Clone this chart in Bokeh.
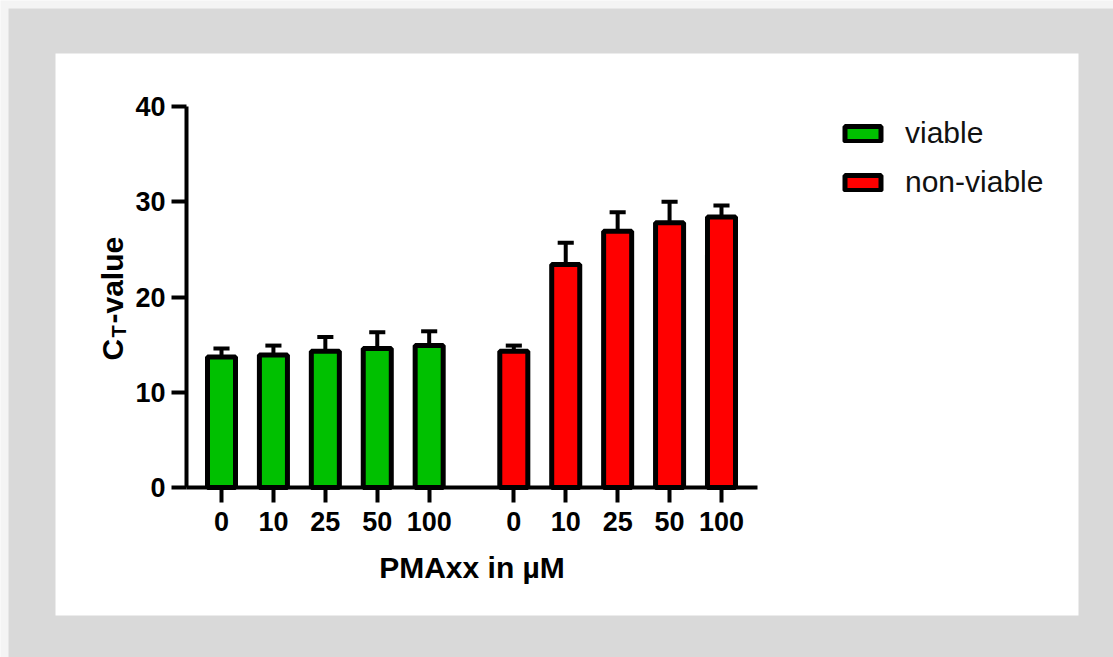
import math
from bokeh.plotting import figure
from bokeh.models import (ColumnDataSource, Range1d, FixedTicker, Legend, LegendItem,
                          Label, BoxAnnotation, LinearAxis)
from bokeh.embed import file_html
from bokeh.resources import INLINE

# ---- data ----
concentrations = ["0", "10", "25", "50", "100"]
viable_mean = [13.7, 13.9, 14.3, 14.6, 14.9]
viable_sd = [0.9, 1.0, 1.5, 1.7, 1.5]
nonviable_mean = [14.3, 23.4, 26.9, 27.8, 28.4]
nonviable_sd = [0.6, 2.3, 2.0, 2.2, 1.2]
y_ticks = [0, 10, 20, 30, 40]

GAP = 1.63
x_viable = [float(i) for i in range(len(concentrations))]
x_nonviable = [round(i + 4 + GAP, 2) for i in range(len(concentrations))]

FONT = "Liberation Sans"
W, H = 1113, 657

# pixel geometry of the plotting area (layout only)
X0_PX, XU_PX = 221.0, 51.92       # pixel of x=0, pixels per x unit
Y0_PX, YU_PX = 487.0, 9.525       # pixel of y=0, pixels per y unit
AX_LEFT_PX, AX_RIGHT_PX = 186.0, 757.0


def dx(px):
    return (px - X0_PX) / XU_PX


p = figure(width=W, height=H, output_backend="svg", toolbar_location=None,
           x_range=Range1d(dx(0), dx(W)),
           y_range=Range1d(-(H - Y0_PX) / YU_PX, Y0_PX / YU_PX),
           x_axis_location=None, y_axis_location=None,
           min_border=0, min_border_left=0, min_border_right=0,
           min_border_top=0, min_border_bottom=0)
p.border_fill_color = "#f4f4f4"
p.background_fill_color = "#f4f4f4"
p.outline_line_color = None
p.grid.visible = False
for g in p.grid:
    g.grid_line_color = None


def sy(py):
    return H - py


# gray frame and white panel (screen units, y measured from bottom)
p.add_layout(BoxAnnotation(left=8, right=W, top=sy(8), bottom=0,
                           left_units="screen", right_units="screen",
                           top_units="screen", bottom_units="screen",
                           fill_color="#d9d9d9", fill_alpha=1, line_alpha=0, level="underlay"))
p.add_layout(BoxAnnotation(left=55, right=1078, top=sy(53), bottom=sy(615),
                           left_units="screen", right_units="screen",
                           top_units="screen", bottom_units="screen",
                           fill_color="white", fill_alpha=1, line_alpha=0, level="underlay"))

src_v = ColumnDataSource(dict(x=x_viable, top=viable_mean,
                              err=[m + s for m, s in zip(viable_mean, viable_sd)],
                              cl=[x - 0.155 for x in x_viable], cr=[x + 0.155 for x in x_viable]))
src_n = ColumnDataSource(dict(x=x_nonviable, top=nonviable_mean,
                              err=[m + s for m, s in zip(nonviable_mean, nonviable_sd)],
                              cl=[x - 0.155 for x in x_nonviable], cr=[x + 0.155 for x in x_nonviable]))

for src in (src_v, src_n):
    p.segment(x0="x", y0="top", x1="x", y1="err", source=src, line_color="black", line_width=4)
    p.segment(x0="cl", y0="err", x1="cr", y1="err", source=src, line_color="black", line_width=4)

rv = p.vbar(x="x", top="top", bottom=0, width=0.54, source=src_v,
            fill_color="#00C000", line_color="black", line_width=5)
rn = p.vbar(x="x", top="top", bottom=0, width=0.54, source=src_n,
            fill_color="#FF0000", line_color="black", line_width=5)

# axes at fixed positions
xt = x_viable + x_nonviable
xaxis = LinearAxis(fixed_location=0, bounds=(dx(AX_LEFT_PX), dx(AX_RIGHT_PX)),
                   ticker=FixedTicker(ticks=xt))
xaxis.major_label_overrides = {t: lab for t, lab in zip(xt, concentrations + concentrations)}
xaxis.major_label_standoff = 9
xaxis.axis_label = "PMAxx in µM"
xaxis.axis_label_text_font = FONT
xaxis.axis_label_text_font_style = "bold"
xaxis.axis_label_text_font_size = "30px"
xaxis.axis_label_text_color = "black"
xaxis.axis_label_standoff = 17

yaxis = LinearAxis(fixed_location=dx(AX_LEFT_PX), bounds=(0, 40),
                   ticker=FixedTicker(ticks=y_ticks))
yaxis.major_label_standoff = 6

for ax in (xaxis, yaxis):
    ax.axis_line_width = 4
    ax.axis_line_color = "black"
    ax.major_tick_line_width = 4
    ax.major_tick_line_color = "black"
    ax.major_tick_out = 15
    ax.major_tick_in = 0
    ax.minor_tick_line_color = None
    ax.major_label_text_font = FONT
    ax.major_label_text_font_style = "bold"
    ax.major_label_text_font_size = "27px"
    ax.major_label_text_color = "black"

p.add_layout(xaxis, "below")
p.add_layout(yaxis, "left")

# y-axis label with subscript T, rotated
ang = math.pi / 2
for txt, bx, by, fs in (("C", 112, 360, "30px"), ("T", 118, 337, "20px"), ("-value", 112, 323, "30px")):
    p.add_layout(Label(x=bx, y=sy(by), x_units="screen", y_units="screen", text=txt,
                       angle=ang, text_font=FONT, text_font_style="bold", text_font_size=fs,
                       text_align="left", text_baseline="alphabetic", text_color="black"))

legend = Legend(items=[LegendItem(label="viable", renderers=[rv]),
                       LegendItem(label="non-viable", renderers=[rn])],
                location=(840, sy(199)))
legend.glyph_width = 45
legend.glyph_height = 19
legend.label_text_font = FONT
legend.label_text_font_size = "30px"
legend.label_text_color = "#111111"
legend.label_standoff = 20
legend.spacing = 15
legend.padding = 0
legend.margin = 0
legend.border_line_alpha = 0
legend.background_fill_alpha = 0
p.add_layout(legend, "center")

open("out.html", "w").write(file_html(p, INLINE))
